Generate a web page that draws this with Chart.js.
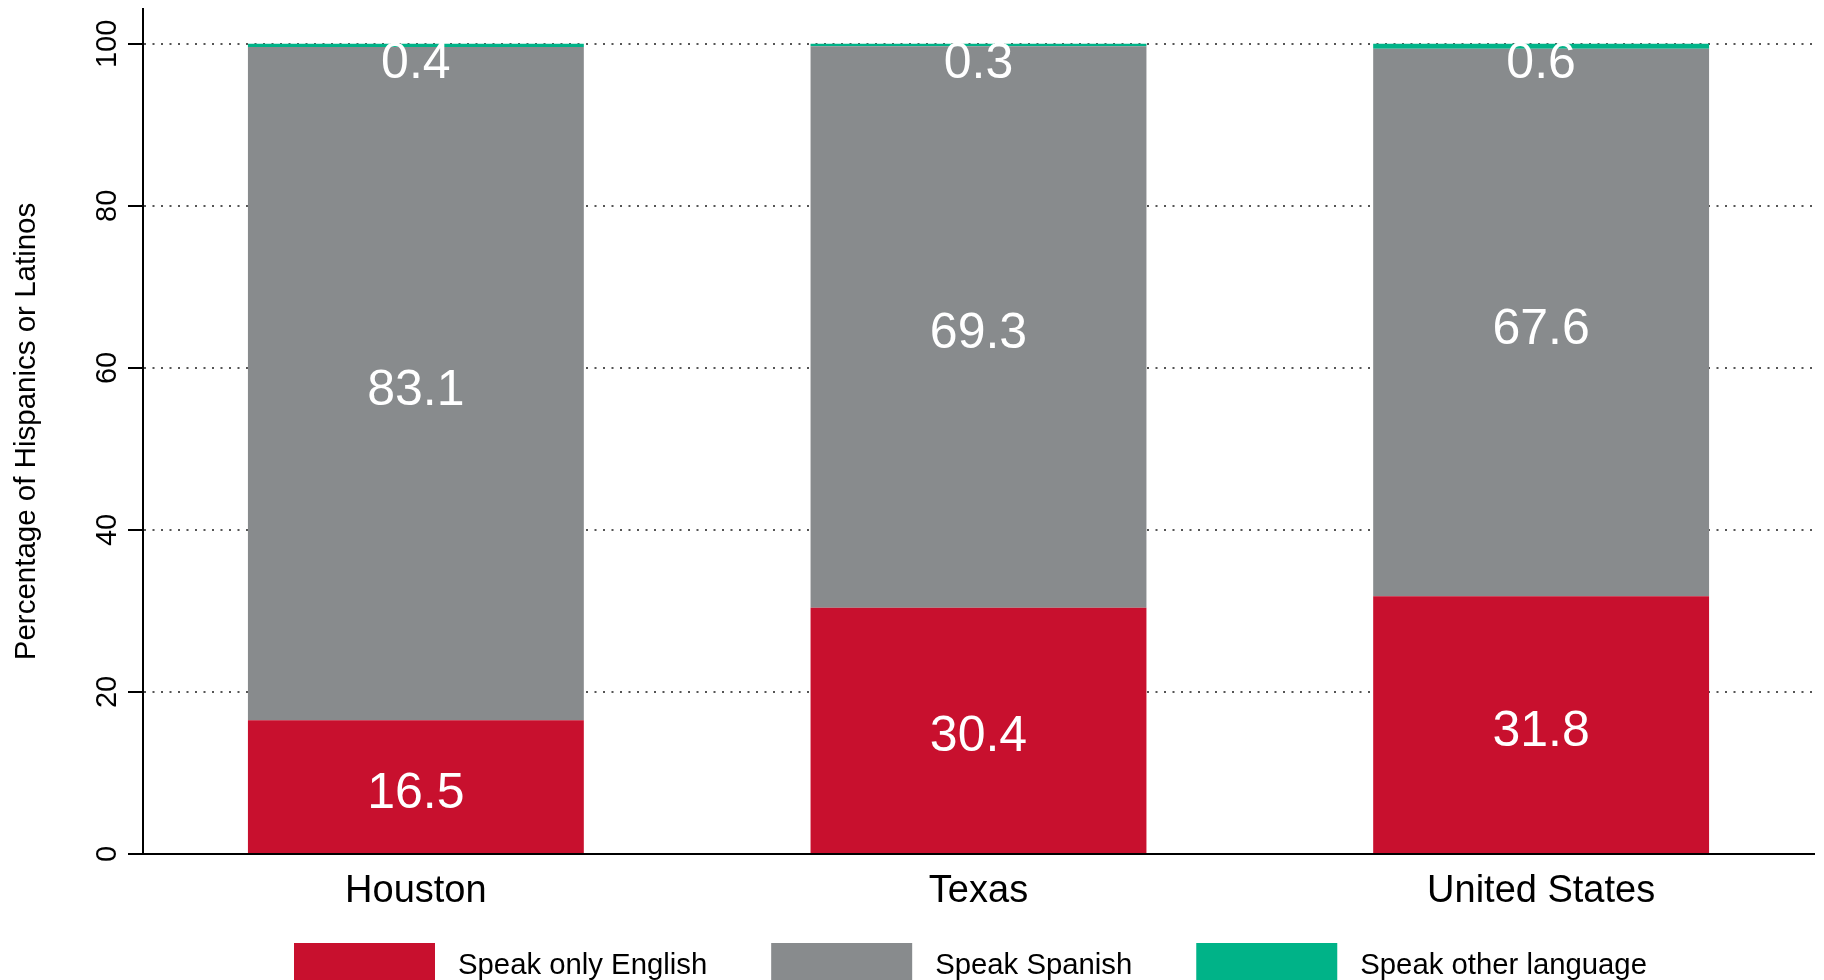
<!DOCTYPE html>
<html>
<head>
<meta charset="utf-8">
<title>Language spoken by Hispanics or Latinos</title>
<script src="https://cdn.jsdelivr.net/npm/chart.js@4.4.0/dist/chart.umd.min.js"></script>
<style>
  html, body { margin: 0; padding: 0; background: #fff; }
  #myChart { width: 1824px; height: 980px; }
</style>
</head>
<body>
<div id="myChart"><canvas id="chartCanvas" width="1824" height="980"></canvas></div>
<script>
const categories = ['Houston', 'Texas', 'United States'];
const onlyEnglish = [16.5, 30.4, 31.8];
const spanish = [83.1, 69.3, 67.6];
const otherLanguage = [0.4, 0.3, 0.6];
const seriesNames = ['Speak only English', 'Speak Spanish', 'Speak other language'];
const yTicks = [0, 20, 40, 60, 80, 100];
const yTitle = 'Percentage of Hispanics or Latinos';

const FONT = "'Liberation Sans', Arial, Helvetica, sans-serif";
const colors = ['#C8102E', '#888B8D', '#00B388'];

// white numbers inside each segment; the thin top segment gets its label just under the bar top
const valueLabels = {
    id: 'valueLabels',
    afterDatasetsDraw(chart) {
        const ctx = chart.ctx;
        ctx.save();
        ctx.fillStyle = '#fff';
        ctx.font = '50px ' + FONT;
        ctx.textAlign = 'center';
        ctx.textBaseline = 'alphabetic';
        chart.data.datasets.forEach((ds, di) => {
            chart.getDatasetMeta(di).data.forEach((bar, i) => {
                const v = ds.data[i].y;
                const top = Math.min(bar.y, bar.base);
                const y = di === 2 ? top + 34 : (bar.y + bar.base) / 2 + 21;
                ctx.fillText(v.toFixed(1), bar.x, y);
            });
        });
        ctx.restore();
    }
};

// y tick labels are rotated, reading bottom to top
const yTickLabels = {
    id: 'yTickLabels',
    afterDraw(chart) {
        const ctx = chart.ctx;
        const scale = chart.scales.y;
        ctx.save();
        ctx.fillStyle = '#000';
        ctx.font = '29px ' + FONT;
        ctx.textAlign = 'center';
        ctx.textBaseline = 'alphabetic';
        yTicks.forEach(t => {
            ctx.save();
            ctx.translate(116, scale.getPixelForValue(t));
            ctx.rotate(-Math.PI / 2);
            ctx.fillText(String(t), 0, 0);
            ctx.restore();
        });
        ctx.restore();
    }
};

const bottomLegend = {
    id: 'bottomLegend',
    afterDraw(chart) {
        const ctx = chart.ctx;
        ctx.save();
        ctx.font = '29.3px ' + FONT;
        ctx.textBaseline = 'alphabetic';
        let x = 294;
        chart.data.datasets.forEach(ds => {
            ctx.fillStyle = ds.backgroundColor;
            ctx.fillRect(x, 943, 141, 40);
            x += 141 + 23;
            ctx.fillStyle = '#000';
            ctx.fillText(ds.label, x, 974);
            x += ctx.measureText(ds.label).width + 64;
        });
        ctx.restore();
    }
};

document.addEventListener('DOMContentLoaded', () => {
    const ctx = document.getElementById('chartCanvas').getContext('2d');
    const toPoints = arr => arr.map((v, i) => ({ x: i, y: v }));

    new Chart(ctx, {
        type: 'bar',
        data: {
            datasets: [
                { label: seriesNames[0], data: toPoints(onlyEnglish), backgroundColor: colors[0] },
                { label: seriesNames[1], data: toPoints(spanish), backgroundColor: colors[1] },
                { label: seriesNames[2], data: toPoints(otherLanguage), backgroundColor: colors[2] }
            ]
        },
        options: {
            responsive: false,
            animation: false,
            barPercentage: 0.597,
            categoryPercentage: 1,
            layout: { padding: { top: 9, right: 10, bottom: 0, left: 0 } },
            plugins: {
                legend: { display: false },
                tooltip: { enabled: false }
            },
            scales: {
                x: {
                    type: 'linear',
                    offset: false,
                    stacked: true,
                    min: -0.485,
                    max: 2.485,
                    afterBuildTicks: s => { s.ticks = categories.map((c, i) => ({ value: i })); },
                    afterFit: s => { s.height = 126; },
                    grid: { display: false, drawTicks: false },
                    border: { display: true, color: '#000', width: 2, z: 1 },
                    ticks: {
                        color: '#000',
                        font: { family: FONT, size: 38 },
                        padding: 15,
                        maxRotation: 0,
                        autoSkip: false,
                        callback: v => categories[v]
                    }
                },
                y: {
                    stacked: true,
                    min: 0,
                    max: 104.3,
                    afterBuildTicks: s => { s.ticks = yTicks.map(v => ({ value: v })); },
                    afterFit: s => { s.width = 143; },
                    grid: {
                        color: '#555',
                        lineWidth: 2,
                        drawTicks: true,
                        tickColor: '#000',
                        tickWidth: 2,
                        tickLength: 15,
                        tickBorderDash: []
                    },
                    border: { display: true, color: '#000', width: 2, dash: [2, 6.5] },
                    ticks: { display: false },
                    title: {
                        display: true,
                        text: yTitle,
                        color: '#000',
                        font: { family: FONT, size: 29.5 },
                        padding: { top: 9, bottom: 0 }
                    }
                }
            }
        },
        plugins: [valueLabels, yTickLabels, bottomLegend]
    });
});
</script>
</body>
</html>
